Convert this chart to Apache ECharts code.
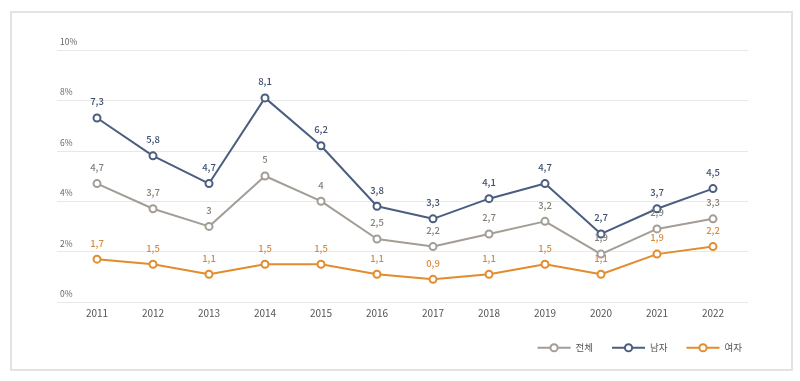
<!DOCTYPE html>
<html><head><meta charset="utf-8">
<script src="https://cdn.jsdelivr.net/npm/echarts@6/dist/echarts.min.js"></script>
<style>html,body{margin:0;padding:0;background:#fff}#c{width:800px;height:381px}</style>
</head><body><div id="c"></div>
<script>
const years = [2011,2012,2013,2014,2015,2016,2017,2018,2019,2020,2021,2022];
const total = [4.7,3.7,3,5,4,2.5,2.2,2.7,3.2,1.9,2.9,3.3];
const male = [7.3,5.8,4.7,8.1,6.2,3.8,3.3,4.1,4.7,2.7,3.7,4.5];
const female = [1.7,1.5,1.1,1.5,1.5,1.1,0.9,1.1,1.5,1.1,1.9,2.2];
const yTicks = [0,2,4,6,8,10];
const names = ['전체','남자','여자'];
const colors = ['#a39d96','#4b5e80','#e28c2e'];
const labelColors = ['#858079','#3f506e','#d98a3c'];
const FONT = '"Noto Sans CJK KR","Noto Sans",sans-serif';

function mk(i, vals){
  return {
    name: names[i], type:'line', data: years.map((y,k)=>[y, vals[k]]),
    symbol:'emptyCircle', symbolSize:7,
    lineStyle:{color:colors[i], width:2},
    itemStyle:{color:colors[i], borderWidth:2, borderColor:colors[i]},
    label:{show:true, position:'top', distance:7, color:labelColors[i], fontSize:9.5, fontFamily:FONT, fontWeight:500,
      formatter:p=>String(p.value[1]).replace('.',',')},
    emphasis:{disabled:true}, animation:false
  };
}
const chart = echarts.init(document.getElementById('c'), null, {renderer:'canvas'});
chart.setOption({
  animation:false,
  textStyle:{fontFamily:FONT},
  graphic:[{type:'rect', shape:{x:11,y:12,width:781,height:358}, style:{fill:'none', stroke:'#e3e3e3', lineWidth:2}, silent:true}],
  grid:{left:57, right:52, top:50, bottom:79},
  xAxis:{type:'value', min:2010.2857, max:2022.625,
    axisLine:{show:false}, axisTick:{show:false}, splitLine:{show:false},
    axisLabel:{customValues:years, color:'#555', fontSize:10, margin:6, fontFamily:FONT, formatter:v=>String(Math.round(v))}},
  yAxis:{type:'value', min:0, max:10, interval:2,
    axisLine:{show:false}, axisTick:{show:false},
    splitLine:{lineStyle:{color:'#e8e8e8', width:1}},
    axisLabel:{inside:true, margin:3, align:'left', verticalAlign:'bottom', padding:[0,0,4,0], color:'#666', fontSize:8.5, fontFamily:FONT,
      formatter:v=>yTicks.includes(v)? v+'%':''}},
  legend:{data:names, right:53, top:338, itemWidth:33, itemHeight:9, itemGap:18,
    textStyle:{color:'#555', fontSize:9.5, fontFamily:FONT}},
  series:[mk(0,total), mk(1,male), mk(2,female)]
});
</script></body></html>
